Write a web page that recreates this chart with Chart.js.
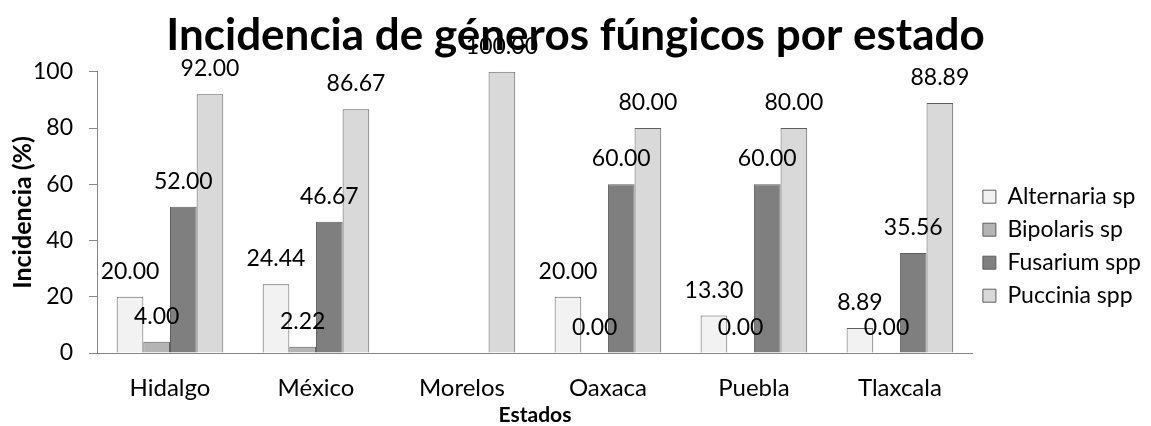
<!DOCTYPE html>
<html>
<head>
<meta charset="utf-8">
<script src="https://cdn.jsdelivr.net/npm/chart.js@4/dist/chart.umd.min.js"></script>
<style>
    html, body { margin: 0; padding: 0; background: #fff; }
    #wrap { width: 1151px; height: 426px; }
</style>
</head>
<body>
<div id="wrap"><canvas id="incidenciaChart"></canvas></div>
<script>
// datos
const estados = ['Hidalgo', 'México', 'Morelos', 'Oaxaca', 'Puebla', 'Tlaxcala'];
const alternaria = [20.00, 24.44, null, 20.00, 13.30, 8.89];
const bipolaris = [4.00, 2.22, null, 0.00, 0.00, 0.00];
const fusarium = [52.00, 46.67, null, 60.00, 60.00, 35.56];
const puccinia = [92.00, 86.67, 100.00, 80.00, 80.00, 88.89];
const yTicks = [0, 20, 40, 60, 80, 100];

const FONT = 'Lato, "Open Sans", sans-serif';

// etiquetas de valor encima de cada barra
const valueLabels = {
    id: 'valueLabels',
    afterDatasetsDraw(chart) {
        const ctx = chart.ctx;
        ctx.save();
        ctx.font = '23px ' + FONT;
        ctx.fillStyle = '#000';
        ctx.textAlign = 'center';
        ctx.textBaseline = 'alphabetic';
        chart.data.datasets.forEach((ds, i) => {
            const meta = chart.getDatasetMeta(i);
            meta.data.forEach((bar, j) => {
                const v = ds.data[j];
                if (v === null || v === undefined) return;
                ctx.fillText(v.toFixed(2), bar.x, bar.y - 18);
            });
        });
        ctx.restore();
    }
};

function makeDataset(label, data, color) {
    return {
        label: label,
        data: data,
        backgroundColor: color,
        borderColor: '#5f5f5f',
        borderWidth: 1,
        categoryPercentage: 0.73,
        barPercentage: 1.0
    };
}

const ctx = document.getElementById('incidenciaChart').getContext('2d');
const incidenciaChart = new Chart(ctx, {
    type: 'bar',
    data: {
        labels: estados,
        datasets: [
            makeDataset('Alternaria sp', alternaria, '#f2f2f2'),
            makeDataset('Bipolaris sp', bipolaris, '#b4b4b4'),
            makeDataset('Fusarium spp', fusarium, '#7f7f7f'),
            makeDataset('Puccinia spp', puccinia, '#d9d9d9')
        ]
    },
    options: {
        responsive: true,
        maintainAspectRatio: false,
        animation: false,
        layout: { padding: { left: 0, right: 0, top: 0, bottom: 0 } },
        scales: {
            x: {
                afterFit: function (scale) { scale.height = 73; },
                grid: { display: false },
                border: { color: '#868686' },
                ticks: {
                    color: '#000',
                    font: { family: FONT, size: 24 },
                    padding: 13
                },
                title: {
                    display: true,
                    text: 'Estados',
                    color: '#000',
                    font: { family: FONT, size: 21, weight: 'bold', lineHeight: 1 },
                    padding: { top: 0, bottom: 0 }
                }
            },
            y: {
                min: 0,
                max: 100,
                afterFit: function (scale) { scale.width = 97; },
                afterBuildTicks: function (scale) {
                    scale.ticks = yTicks.map(v => ({ value: v }));
                },
                grid: {
                    drawOnChartArea: false,
                    drawTicks: true,
                    tickLength: 8,
                    color: '#868686'
                },
                border: { color: '#868686' },
                ticks: {
                    color: '#000',
                    font: { family: FONT, size: 23 },
                    padding: 16
                },
                title: {
                    display: true,
                    text: 'Incidencia (%)',
                    color: '#000',
                    font: { family: FONT, size: 25, weight: 'bold', lineHeight: 1.2 },
                    padding: { top: 8, bottom: 0 }
                }
            }
        },
        plugins: {
            title: {
                display: true,
                text: 'Incidencia de géneros fúngicos por estado',
                color: '#000',
                font: { family: FONT, size: 44, weight: 'bold', lineHeight: 1.2 },
                padding: { top: 9, bottom: 10 }
            },
            legend: {
                position: 'right',
                title: {
                    display: true,
                    text: '',
                    font: { size: 12 },
                    padding: { top: 52, bottom: 0 }
                },
                labels: {
                    color: '#000',
                    boxWidth: 13,
                    boxHeight: 13,
                    padding: 10,
                    font: { family: FONT, size: 23, lineHeight: 1 }
                }
            },
            tooltip: { enabled: false }
        }
    },
    plugins: [valueLabels]
});
</script>
</body>
</html>
